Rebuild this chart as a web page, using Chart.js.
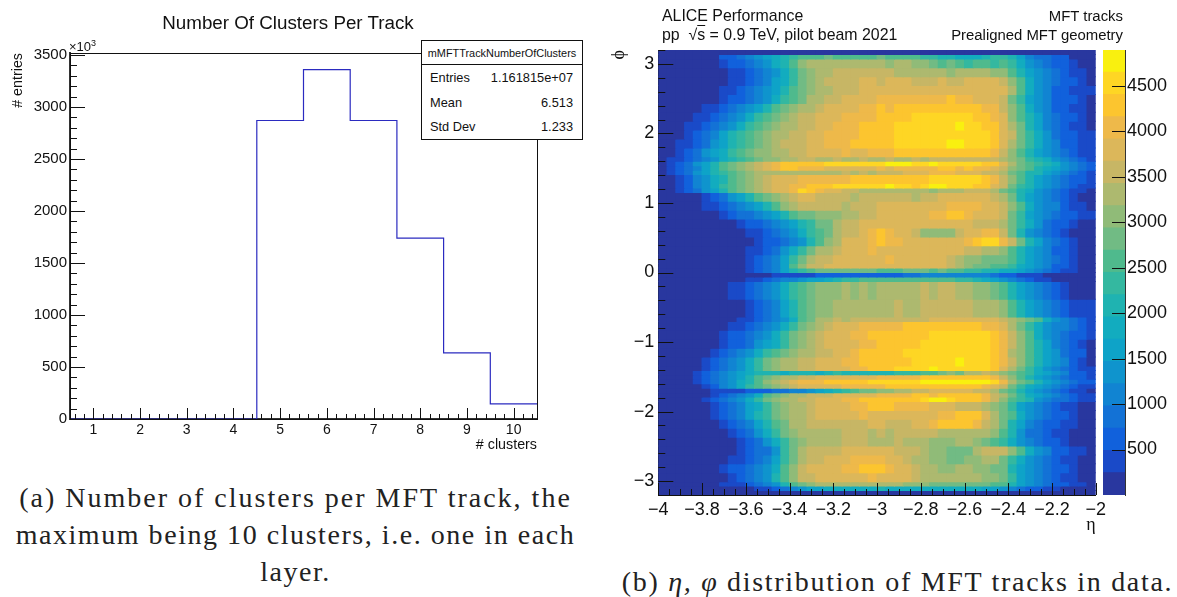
<!DOCTYPE html>
<html>
<head>
<meta charset="utf-8">
<script src="https://cdn.jsdelivr.net/npm/chart.js@4"></script>
<style>
  html, body { margin: 0; padding: 0; background: #fff; }
  body { width: 1177px; height: 597px; position: relative; overflow: hidden; font-family: "Liberation Sans", sans-serif; color: #111; }
  canvas { position: absolute; }
  .label { position: absolute; white-space: nowrap; }
  .caption { position: absolute; font-family: "Liberation Serif", serif; font-size: 28px; line-height: 37px; text-align: center; letter-spacing: 1.55px; color: #222; }
  #stats { position: absolute; left: 421px; top: 40px; width: 160px; height: 98px; background: #fff; border: 1px solid #111; font-size: 12.8px; z-index: 2; }
  #stats .name { height: 23px; line-height: 24px; border-bottom: 1px solid #111; text-align: center; font-size: 10.9px; }
  #stats .row { display: flex; justify-content: space-between; padding: 0 9px 0 8px; height: 24.6px; line-height: 25px; }
</style>
</head>
<body>
<canvas id="clusters" width="576" height="470" style="left:0;top:0;width:576px;height:470px"></canvas>
<canvas id="etaPhi" width="510" height="545" style="left:600px;top:0;width:510px;height:545px"></canvas>
<canvas id="colorBar" width="87" height="545" style="left:1090px;top:0;width:87px;height:545px"></canvas>

<div class="label" style="left:0;width:576px;top:12px;text-align:center;font-size:18.8px">Number Of Clusters Per Track</div>
<div class="label" style="left:69px;top:39px;font-size:13px">×10<sup style="font-size:9px;line-height:0">3</sup></div>
<div id="stats">
  <div class="name">mMFTTrackNumberOfClusters</div>
  <div class="row"><span>Entries</span><span>1.161815e+07</span></div>
  <div class="row"><span>Mean</span><span>6.513</span></div>
  <div class="row"><span>Std Dev</span><span>1.233</span></div>
</div>

<div class="label" style="left:662px;top:7px;font-size:15.9px">ALICE Performance</div>
<div class="label" style="left:662px;top:26px;font-size:15.9px">pp &nbsp;√<span style="text-decoration:overline">s</span> = 0.9 TeV, pilot beam 2021</div>
<div class="label" style="right:54px;top:8px;font-size:14.9px">MFT tracks</div>
<div class="label" style="right:54px;top:27px;font-size:14.9px">Prealigned MFT geometry</div>

<div class="caption" style="left:0;top:479px;width:591px"><span style="letter-spacing:2px">(a) Number of clusters per MFT track, the</span><br>maximum being 10 clusters, i.e. one in each<br>layer.</div>
<div class="caption" style="left:609px;top:563px;width:577px;letter-spacing:1.7px">(b) <i>η, φ</i> distribution of MFT tracks in data.</div>

<script>
// Left plot: clusters per track (entries in thousands)
const clusterBins = [1, 2, 3, 4, 5, 6, 7, 8, 9, 10];
const clusterEntries = [0, 0, 0, 0, 2870, 3360, 2870, 1740, 635, 145];
const clusterXTicks = [1, 2, 3, 4, 5, 6, 7, 8, 9, 10];
const clusterYTicks = [0, 500, 1000, 1500, 2000, 2500, 3000, 3500];

// Right plot: eta bin centres, phi band edges (top to bottom)
const etaBins = [-3.98, -3.94, -3.90, -3.86, -3.82, -3.78, -3.74, -3.70, -3.66, -3.62,
  -3.58, -3.54, -3.50, -3.46, -3.42, -3.38, -3.34, -3.30, -3.26, -3.22,
  -3.18, -3.14, -3.10, -3.06, -3.02, -2.98, -2.94, -2.90, -2.86, -2.82,
  -2.78, -2.74, -2.70, -2.66, -2.62, -2.58, -2.54, -2.50, -2.46, -2.42,
  -2.38, -2.34, -2.30, -2.26, -2.22, -2.18, -2.14, -2.10, -2.06, -2.02];
const phiEdges = [3.2, 3.136, 3.072, 2.944, 2.816, 2.688, 2.56, 2.432, 2.304, 2.176, 2.048, 1.92, 1.792, 1.664, 1.6, 1.536,
  1.472, 1.408, 1.28, 1.216, 1.152, 1.024, 0.896, 0.768, 0.64, 0.512, 0.384, 0.256, 0.128, 0.064, 0,
  -0.064, -0.128, -0.384, -0.64, -0.704, -0.832, -0.96, -1.088, -1.216, -1.344, -1.408, -1.472, -1.536, -1.6, -1.664,
  -1.728, -1.792, -1.856, -1.984, -2.112, -2.24, -2.368, -2.496, -2.624, -2.752, -2.88, -3.008, -3.072, -3.136, -3.2];
const etaTicks = [-4, -3.8, -3.6, -3.4, -3.2, -3, -2.8, -2.6, -2.4, -2.2, -2];
const phiTicks = [-3, -2, -1, 0, 1, 2, 3];
const colorTicks = [500, 1000, 1500, 2000, 2500, 3000, 3500, 4000, 4500];
const colorEdges = [0, 245, 489, 734, 979, 1223, 1468, 1713, 1957, 2202, 2447, 2691, 2936, 3181, 3425, 3670, 3914, 4159, 4404, 4648, 4893];
const palette = ['#29379f', '#1a4ac8', '#1161dc', '#1372d6', '#1184d2', '#0f94cd', '#0ea3c8', '#12acbf', '#1fb3b1', '#34b8a0',
  '#4fba8d', '#71bb84', '#90bb78', '#adb96f', '#c7b665', '#dcb75a', '#eeb94a', '#fcc52f', '#fed624', '#f9f00f'];

// Counts per cell in hundreds, one row per phi band
const cellCounts = [
[2,2,2,2,2,2,2,2,2,2,2,2,2,2,2,2,2,2,2,2,2,2,2,2,2,2,2,2,2,2,2,2,2,2,2,2,2,2,2,2,2,2,2,2,2,2,2,2,2,2],
[1,1,1,1,1,1,1,6,6,8,10,13,16,18,20,23,25,25,25,28,25,25,25,25,25,28,25,25,25,25,23,23,20,20,18,18,18,20,23,23,20,16,10,8,8,6,6,1,1,1],
[1,1,1,1,1,1,1,3,6,6,8,10,13,18,20,25,30,33,33,33,33,33,33,33,33,33,30,33,33,30,30,28,25,28,25,23,25,25,23,25,23,18,13,10,8,6,6,3,1,1],
[1,1,1,1,1,1,1,1,3,3,6,8,10,13,18,23,28,30,33,33,35,35,35,35,35,35,35,33,33,33,33,33,33,30,33,33,33,33,30,30,25,20,16,13,10,8,6,3,3,1],
[1,1,1,1,1,1,1,1,3,3,6,8,10,16,18,23,28,30,33,35,35,35,35,38,38,35,38,38,38,35,35,35,38,35,35,38,38,38,38,35,30,25,18,13,10,8,6,6,3,1],
[1,1,1,1,1,1,1,3,3,6,8,10,13,16,20,25,28,30,33,33,35,35,35,38,38,38,38,38,38,38,38,38,38,38,38,38,38,38,38,38,33,25,18,13,10,6,6,3,3,3],
[1,1,1,1,1,1,1,3,6,6,8,10,13,18,23,25,28,33,33,35,35,38,38,38,38,40,40,40,40,40,40,40,40,42,40,40,38,38,38,35,28,23,16,13,10,6,6,6,3,1],
[1,1,1,1,1,3,3,6,8,10,13,16,20,25,28,30,33,33,35,38,38,38,38,40,40,42,40,42,42,42,42,42,42,42,42,42,42,40,40,35,30,25,18,13,10,6,6,3,3,1],
[1,1,1,1,3,3,6,8,10,13,18,23,25,28,30,33,35,35,38,38,38,40,40,40,40,42,42,42,42,45,45,45,45,45,45,45,42,42,40,38,30,25,20,16,10,8,6,6,3,1],
[1,1,1,3,3,6,8,10,13,18,23,25,28,30,33,33,35,35,38,38,40,40,40,42,42,42,42,45,45,45,45,45,45,45,48,45,45,42,42,38,33,28,20,16,10,8,6,3,3,1],
[1,1,1,3,6,8,10,16,20,23,25,28,30,33,33,35,35,38,38,40,40,40,40,42,42,42,42,45,45,45,45,45,45,45,45,45,45,45,42,38,35,28,23,18,13,8,6,6,3,3],
[1,1,3,3,6,8,13,16,20,23,25,28,30,33,35,35,35,38,38,40,40,40,42,42,42,42,42,45,45,45,45,45,45,48,48,45,45,45,42,38,33,28,23,18,13,10,6,6,3,3],
[1,1,3,6,8,13,16,18,23,25,28,30,30,33,33,35,35,38,38,38,38,40,38,38,40,40,40,42,42,42,42,42,42,42,42,42,42,42,40,35,30,25,20,16,13,10,8,6,3,3],
[1,3,3,6,8,10,13,18,20,23,25,28,30,30,33,33,35,35,33,33,35,33,33,35,33,33,35,33,33,35,33,35,35,35,35,35,35,35,35,33,30,28,23,20,18,13,10,8,6,3],
[1,3,6,8,13,16,20,25,28,30,33,35,38,40,42,42,42,42,42,45,45,45,45,45,45,45,48,48,48,45,45,48,45,45,45,45,45,42,42,38,33,28,25,23,20,18,13,10,8,6],
[1,3,6,8,10,16,20,25,28,30,33,35,38,40,42,42,40,40,40,38,38,38,38,38,38,40,38,40,40,40,40,40,42,42,40,42,40,40,38,35,30,28,25,20,18,16,13,10,8,6],
[1,3,6,8,13,16,20,23,25,28,30,33,33,33,33,33,33,33,33,33,33,35,33,35,33,35,35,35,38,38,38,40,40,40,38,38,38,35,35,33,28,25,20,20,16,13,10,8,6,3],
[1,1,3,6,10,13,18,20,25,28,30,33,35,38,38,38,40,40,40,40,40,40,42,42,42,42,42,42,42,42,42,45,45,45,45,45,45,42,40,35,30,25,20,16,13,10,8,6,6,3],
[1,1,3,6,10,13,18,23,25,28,30,33,35,38,38,40,40,42,42,42,45,45,45,45,45,45,48,45,45,42,45,48,48,45,45,45,42,42,38,35,28,23,20,16,13,10,8,6,3,3],
[1,1,3,6,8,13,16,20,25,28,30,33,35,38,38,40,45,42,40,38,38,35,35,33,33,33,33,33,33,33,33,30,33,33,33,35,35,35,33,28,25,20,18,13,10,8,6,3,3,1],
[1,1,1,1,1,3,6,8,13,16,20,25,28,30,33,35,38,38,35,35,35,35,33,35,35,35,35,35,35,33,35,35,38,38,38,38,38,38,35,33,28,20,16,13,10,8,6,3,1,1],
[1,1,1,1,1,3,3,6,8,10,13,16,20,25,30,33,35,35,35,35,35,33,35,35,35,38,38,38,38,38,38,38,38,40,40,40,40,38,38,35,30,25,18,13,10,10,6,3,3,1],
[1,1,1,1,1,1,1,3,6,8,8,10,13,16,20,25,28,28,30,30,30,33,33,35,35,38,38,38,38,38,38,40,40,42,42,40,38,38,38,35,28,23,16,13,10,8,6,6,3,3],
[1,1,1,1,1,1,1,1,1,3,6,6,8,10,13,16,20,23,28,28,33,35,35,38,38,38,38,38,38,38,38,38,38,38,38,38,35,35,35,33,28,23,18,13,8,6,6,3,1,1],
[1,1,1,1,1,1,1,1,1,1,3,3,6,8,10,13,18,23,25,28,33,35,35,38,40,42,40,38,38,35,30,30,30,30,35,38,38,40,40,35,28,20,13,10,8,6,3,1,1,1],
[1,1,1,1,1,1,1,1,1,1,1,3,6,6,8,10,13,20,25,30,33,38,38,38,40,42,40,40,38,38,38,38,38,38,38,40,42,45,45,40,35,28,20,16,10,8,6,3,1,1],
[1,1,1,1,1,1,1,1,1,1,3,3,6,8,13,18,23,28,33,33,35,38,38,38,40,38,38,38,38,38,38,38,38,38,38,35,35,33,33,30,25,20,16,13,10,6,6,3,1,1],
[1,1,1,1,1,1,1,1,1,1,3,6,8,10,16,23,28,33,35,35,38,38,38,38,38,38,40,38,38,38,38,38,38,35,33,30,30,28,28,28,25,20,16,13,10,8,6,3,1,1],
[1,1,1,1,1,1,1,1,1,1,3,6,8,10,16,25,30,35,35,38,38,38,38,38,38,38,38,38,38,38,38,38,38,35,33,30,28,28,25,25,23,18,16,13,10,6,6,3,1,1],
[1,1,1,1,1,1,1,1,1,1,3,6,8,10,16,20,23,25,28,28,28,28,28,28,28,25,25,25,28,28,28,25,28,25,25,23,23,20,20,18,18,16,13,10,8,6,3,3,1,1],
[1,1,1,1,1,1,1,1,1,1,1,1,1,3,3,3,3,3,6,6,6,6,6,6,6,6,6,6,8,8,10,10,10,10,10,10,10,10,8,6,6,3,3,3,1,1,1,1,1,1],
[1,1,1,1,1,1,1,1,1,1,3,3,6,8,10,10,13,16,16,18,20,23,23,25,25,25,25,25,25,25,25,25,25,25,23,23,20,18,16,13,10,8,6,3,3,1,1,1,1,1],
[1,1,1,1,1,1,1,1,3,3,6,8,10,13,18,23,25,28,30,30,30,33,30,33,30,33,33,33,33,33,35,33,35,35,33,33,30,30,28,25,20,16,13,10,8,6,3,1,1,1],
[1,1,1,1,1,1,1,1,1,1,3,6,8,10,16,20,25,28,30,30,33,33,33,33,33,33,33,35,33,33,35,35,35,35,35,35,33,33,33,30,25,20,16,13,10,8,6,3,3,3],
[1,1,1,1,1,1,1,1,1,3,3,6,8,10,13,18,25,28,33,33,35,33,35,35,35,35,35,35,35,35,35,38,38,38,38,38,38,38,38,35,33,30,28,25,18,13,10,8,6,3],
[1,1,1,1,1,1,1,1,3,3,6,8,10,13,18,23,28,30,33,35,38,38,38,40,40,40,40,40,42,42,42,42,42,42,42,42,42,40,40,38,33,28,23,18,13,10,10,8,6,3],
[1,1,1,1,1,1,1,3,6,6,8,10,13,18,23,28,30,33,35,38,38,38,40,40,42,42,42,42,42,42,42,45,45,45,45,45,45,45,42,40,35,30,25,18,13,10,8,6,6,3],
[1,1,1,1,1,1,1,3,6,6,8,13,16,18,23,28,30,33,35,38,38,38,38,40,40,42,42,42,42,42,45,45,45,45,45,45,45,45,42,40,35,30,25,20,16,10,8,6,3,1],
[1,1,1,1,1,1,3,6,8,10,13,18,23,25,28,30,33,33,35,35,38,38,40,42,42,42,42,42,45,45,45,45,45,45,45,45,45,45,42,40,33,30,25,20,16,13,8,6,6,1],
[1,1,1,1,1,3,6,8,10,13,18,23,28,30,33,33,35,35,38,38,38,40,40,42,42,42,42,42,42,45,45,45,45,45,48,45,45,45,42,40,35,30,25,20,16,13,10,6,3,1],
[1,1,1,1,1,3,6,8,10,13,18,23,28,30,33,33,35,35,38,38,38,38,40,40,42,42,42,45,45,45,45,48,45,45,45,45,45,45,42,38,33,28,23,18,13,10,8,6,3,3],
[1,1,1,1,3,6,8,10,13,16,18,20,20,20,18,20,20,20,18,20,23,20,20,20,20,20,20,23,23,23,25,25,28,30,28,33,33,35,33,30,28,25,23,18,16,13,10,6,6,3],
[1,1,1,1,3,6,8,10,13,16,20,25,28,30,33,33,35,35,38,38,38,38,38,38,38,40,40,40,40,40,42,42,42,42,42,42,42,42,40,35,30,25,20,16,13,10,8,6,6,3],
[1,1,1,1,3,6,8,10,13,18,20,25,30,33,35,38,40,40,40,42,42,42,42,42,45,45,45,45,45,45,48,48,48,48,48,48,48,48,45,40,33,28,25,20,16,13,10,8,6,6],
[1,1,1,1,1,3,6,10,13,18,23,25,28,30,33,35,38,38,38,38,38,40,40,40,40,40,42,42,42,42,42,42,42,42,42,42,42,40,38,35,28,23,18,16,13,10,8,6,3,3],
[1,1,1,1,1,1,3,3,3,3,6,6,6,8,8,10,10,13,16,18,20,23,25,28,28,30,30,33,33,35,35,38,38,38,38,38,35,35,33,28,25,20,16,13,10,8,6,3,3,1],
[1,1,1,1,1,1,3,6,8,10,13,18,25,28,30,33,33,35,35,35,38,38,38,38,38,40,40,40,40,42,42,40,42,42,42,42,42,40,35,33,28,23,18,16,13,10,8,6,3,3],
[1,1,1,1,1,3,6,8,10,13,18,23,28,30,33,33,35,35,38,38,38,40,40,42,42,42,42,42,42,42,45,48,48,45,42,42,42,40,35,30,25,23,20,13,10,8,8,6,3,3],
[1,1,1,1,1,1,3,6,8,10,16,18,23,28,30,33,33,35,38,38,38,38,40,40,42,42,42,40,40,40,40,38,38,38,35,35,35,33,30,28,23,16,13,10,8,6,3,3,1,1],
[1,1,1,1,1,1,3,6,8,10,16,20,23,28,30,33,33,35,38,38,38,38,38,40,38,38,38,38,38,38,38,38,40,40,42,42,42,38,33,28,25,18,13,10,8,6,6,3,1,1],
[1,1,1,1,1,1,1,3,6,8,10,16,20,25,28,33,33,35,35,35,35,35,35,35,38,38,35,35,35,38,38,40,42,42,42,42,40,35,33,28,20,16,10,8,6,6,3,3,1,1],
[1,1,1,1,1,1,1,1,3,6,8,13,18,23,28,30,33,33,33,33,33,35,35,35,33,35,33,35,35,35,35,35,33,33,33,33,33,33,30,25,20,13,8,8,6,3,3,1,1,1],
[1,1,1,1,1,1,1,1,1,3,6,8,13,18,23,28,30,33,33,33,33,35,35,35,33,33,33,35,33,33,33,30,30,30,33,33,30,28,25,23,18,13,10,8,6,6,3,1,1,1],
[1,1,1,1,1,1,1,1,1,3,6,8,8,13,23,28,33,35,35,35,35,38,38,38,38,38,38,35,35,35,33,30,30,28,28,28,33,35,35,35,30,25,18,13,10,6,6,3,3,1],
[1,1,1,1,1,1,1,1,3,3,6,8,10,16,23,28,33,35,35,38,38,38,40,40,40,40,38,38,35,33,33,30,30,28,28,30,30,33,33,28,23,18,13,10,8,6,3,3,1,1],
[1,1,1,1,1,1,1,3,6,6,8,10,13,18,25,30,35,38,38,38,38,40,40,42,42,42,40,38,38,35,33,33,30,30,33,33,30,30,28,28,20,16,13,10,8,6,6,3,1,1],
[1,1,1,1,1,1,1,1,3,6,8,10,13,20,25,30,35,35,38,38,38,38,38,38,40,38,38,38,38,35,33,33,33,33,33,33,33,30,30,28,23,16,13,10,8,6,3,3,1,1],
[1,1,1,1,1,1,1,3,3,3,6,8,10,13,20,25,28,30,33,33,33,33,33,33,33,33,33,33,30,30,30,28,28,28,28,28,28,28,25,25,20,16,13,10,8,6,6,3,3,1],
[1,1,1,1,1,1,1,1,1,1,1,3,3,6,8,10,13,16,16,18,18,18,18,18,18,20,18,18,18,18,18,18,18,18,18,18,18,16,16,13,10,8,6,6,3,3,1,1,1,1],
[2,2,2,2,2,2,2,2,2,2,2,2,2,2,2,2,2,2,2,2,2,2,2,2,2,2,2,2,2,2,2,2,2,2,2,2,2,2,2,2,2,2,2,2,2,2,2,2,2,2]
];

const sans = 'Liberation Sans';
const colorOf = hundreds => palette[Math.min(19, Math.floor(hundreds * 100 / 244.65))];
const plain = v => String(v);
const minus = v => String(v).replace('-', '\u2212');

// ROOT style tick marks, drawn inward from the axis through the scales
function rootTicks(specs) {
    return {
        id: 'rootTicks',
        afterDatasetsDraw(chart) {
            const { ctx, chartArea, scales } = chart;
            ctx.save();
            ctx.strokeStyle = '#111';
            ctx.lineWidth = 1;
            specs.forEach(s => {
                const scale = scales[s.axis];
                s.marks.forEach(mark => {
                    for (let n = mark.from; n <= mark.to + 1e-9; n = +(n + mark.step).toFixed(4)) {
                        const p = Math.round(scale.getPixelForValue(n)) + 0.5;
                        ctx.beginPath();
                        if (s.axis === 'x') {
                            ctx.moveTo(p, chartArea.bottom);
                            ctx.lineTo(p, chartArea.bottom - mark.len);
                        } else if (s.side === 'right') {
                            ctx.moveTo(chartArea.right, p);
                            ctx.lineTo(chartArea.right - mark.len, p);
                        } else {
                            ctx.moveTo(chartArea.left, p);
                            ctx.lineTo(chartArea.left + mark.len, p);
                        }
                        ctx.stroke();
                    }
                });
            });
            ctx.restore();
        }
    };
}

const frame = {
    id: 'frame',
    afterDraw(chart) {
        const { ctx, chartArea: a } = chart;
        ctx.save();
        ctx.strokeStyle = '#111';
        ctx.lineWidth = 1;
        ctx.strokeRect(a.left + 0.5, a.top + 0.5, a.right - a.left, a.bottom - a.top);
        ctx.restore();
    }
};

function baseOptions() {
    return {
        responsive: false,
        animation: false,
        events: [],
        plugins: { legend: { display: false }, tooltip: { enabled: false } }
    };
}

// Chart 1: clusters per track
const histogram = clusterBins.flatMap((bin, i) => [
    { x: bin - 0.5, y: clusterEntries[i] },
    { x: bin + 0.5, y: clusterEntries[i] }
]);

new Chart(document.getElementById('clusters'), {
    type: 'line',
    data: { datasets: [{ data: histogram, borderColor: '#2b2bc0', borderWidth: 1.2, pointRadius: 0, tension: 0 }] },
    options: {
        ...baseOptions(),
        layout: { padding: { top: 53, right: 39 } },
        scales: {
            x: {
                type: 'linear', min: 0.5, max: 10.5,
                afterFit: a => { a.height = 51; },
                afterBuildTicks: a => { a.ticks = clusterXTicks.map(v => ({ value: v })); },
                grid: { drawOnChartArea: false, drawTicks: false },
                border: { color: '#333', width: 2 },
                ticks: { color: '#111', font: { family: sans, size: 14 }, padding: 3, maxRotation: 0, autoSkip: false, callback: plain },
                title: { display: true, text: '# clusters', align: 'end', color: '#111', font: { family: sans, size: 14.3 }, padding: { top: 1, bottom: 16 } }
            },
            y: {
                min: 0, max: 3519,
                afterFit: a => { a.width = 70; },
                afterBuildTicks: a => { a.ticks = clusterYTicks.map(v => ({ value: v })); },
                grid: { drawOnChartArea: false, drawTicks: false },
                border: { color: '#333', width: 2 },
                ticks: { color: '#111', font: { family: sans, size: 15 }, padding: 3, autoSkip: false, callback: plain },
                title: { display: true, text: '# entries', align: 'end', color: '#111', font: { family: sans, size: 14.3 }, padding: { top: 9, bottom: 0 } }
            }
        }
    },
    plugins: [frame, rootTicks([
        { axis: 'x', marks: [{ from: 0.6, to: 10.4, step: 0.2, len: 5 }, { from: 1, to: 10, step: 1, len: 11 }] },
        { axis: 'y', marks: [{ from: 0, to: 3500, step: 100, len: 7 }, { from: 0, to: 3500, step: 500, len: 15 }] }
    ])]
});

// Chart 2: eta, phi heat map, one floating bar per cell
const heatRows = cellCounts.map((row, r) => ({
    data: row.map((_, c) => ({ x: etaBins[c], y: [phiEdges[r + 1], phiEdges[r]] })),
    backgroundColor: row.map(colorOf),
    borderWidth: 0,
    inflateAmount: 0.5,
    barPercentage: 1,
    categoryPercentage: 1,
    grouped: false
}));

new Chart(document.getElementById('etaPhi'), {
    type: 'bar',
    data: { datasets: heatRows },
    options: {
        ...baseOptions(),
        layout: { padding: { top: 50, right: 13.3 } },
        scales: {
            x: {
                type: 'linear', min: -4, max: -2, offset: false,
                afterFit: a => { a.height = 50; },
                afterBuildTicks: a => { a.ticks = etaTicks.map(v => ({ value: v })); },
                grid: { drawOnChartArea: false, drawTicks: false, offset: false },
                border: { color: '#111', width: 1 },
                ticks: { color: '#111', font: { family: sans, size: 18 }, padding: 4, maxRotation: 0, autoSkip: false, callback: minus },
                title: { display: true, text: 'η', align: 'end', color: '#111', font: { family: 'Liberation Serif', size: 18 }, padding: { top: 1, bottom: 9 } }
            },
            y: {
                type: 'linear', min: -3.2, max: 3.2,
                afterFit: a => { a.width = 58.3; },
                afterBuildTicks: a => { a.ticks = phiTicks.map(v => ({ value: v })); },
                grid: { drawOnChartArea: false, drawTicks: false, lineWidth: 0 },
                border: { color: '#111', width: 1 },
                ticks: { color: '#111', font: { family: sans, size: 18 }, padding: 4, autoSkip: false, callback: minus },
                title: { display: true, text: 'ϕ', align: 'end', color: '#111', font: { family: 'Liberation Serif', size: 18 }, padding: { top: 8, bottom: 0 } }
            }
        }
    },
    plugins: [rootTicks([
        { axis: 'x', marks: [{ from: -4, to: -2, step: 0.05, len: 6 }, { from: -4, to: -2, step: 0.2, len: 12 }] },
        { axis: 'y', marks: [{ from: -3.2, to: 3.2, step: 0.2, len: 7 }, { from: -3, to: 3, step: 1, len: 15 }] }
    ])]
});

// Chart 3: colour bar
new Chart(document.getElementById('colorBar'), {
    type: 'bar',
    data: {
        labels: [''],
        datasets: palette.map((color, i) => ({
            data: [[colorEdges[i], colorEdges[i + 1]]],
            backgroundColor: color,
            borderWidth: 0,
            inflateAmount: 0.5,
            barPercentage: 1,
            categoryPercentage: 1,
            grouped: false
        }))
    },
    options: {
        ...baseOptions(),
        layout: { padding: { left: 13, top: 50, bottom: 50 } },
        scales: {
            x: { display: false },
            y: {
                position: 'right', min: 0, max: 4893,
                afterFit: a => { a.width = 52; },
                afterBuildTicks: a => { a.ticks = colorTicks.map(v => ({ value: v })); },
                grid: { drawOnChartArea: false, drawTicks: false },
                border: { color: '#333', width: 1 },
                ticks: { color: '#111', font: { family: sans, size: 18 }, padding: 2, autoSkip: false, callback: plain }
            }
        }
    },
    plugins: [rootTicks([
        { axis: 'y', side: 'right', marks: [{ from: 500, to: 4500, step: 500, len: 13 }] }
    ])]
});
</script>
</body>
</html>
